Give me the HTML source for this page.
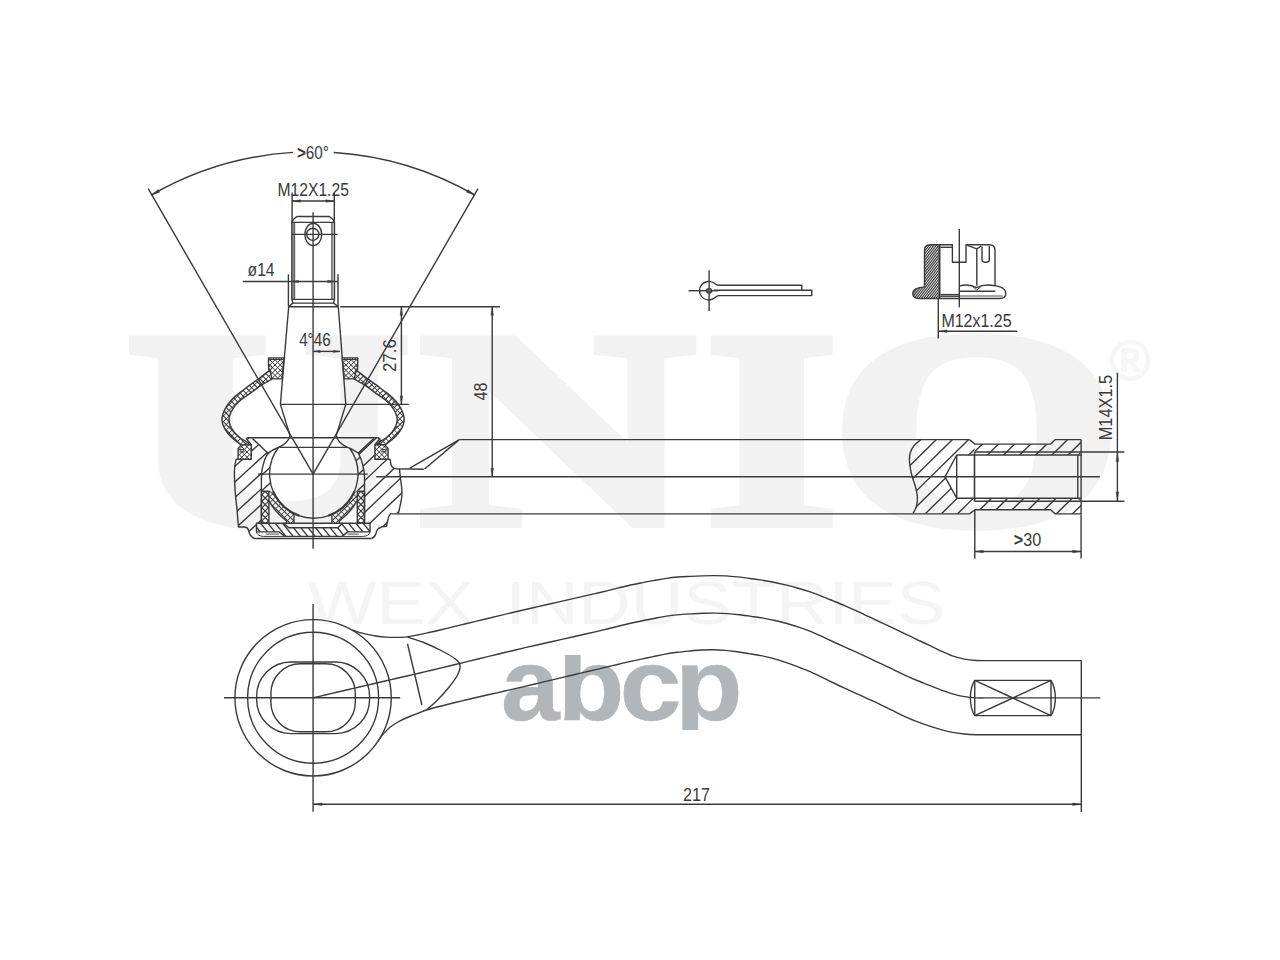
<!DOCTYPE html>
<html lang="en">
<head>
<meta charset="utf-8">
<title>Tie rod end drawing</title>
<style>
html,body{margin:0;padding:0;background:#fff;}
body{width:1280px;height:960px;overflow:hidden;font-family:"Liberation Sans",sans-serif;}
svg{display:block;}
.wm text{font-family:"Liberation Serif",serif;font-weight:bold;}
.wx text{font-family:"Liberation Sans",sans-serif;}
.dr{fill:none;stroke:#3a3a3a;stroke-width:1.4;stroke-linecap:butt;stroke-linejoin:round;}
.dr text{font-family:"Liberation Sans",sans-serif;fill:#3a3a3a;stroke:none;}
</style>
</head>
<body>
<svg width="1280" height="960" viewBox="0 0 1280 960">
<defs>
<clipPath id="c1"><path clip-rule="evenodd" d="M268.5 357.9 L283.9 357.9 L282 378.9 L271.9 378.9 L270 370.2 L268.7 369.6 L268.5 365.6 Z"/></clipPath>
<clipPath id="c2"><path clip-rule="evenodd" d="M268.5 357.9 L283.9 357.9 L282 378.9 L271.9 378.9 L270 370.2 L268.7 369.6 L268.5 365.6 Z"/></clipPath>
<clipPath id="c3"><path clip-rule="evenodd" d="M270 370.2 C268.5 371.33 264.37 374.5 261 377 C257.63 379.5 253.55 382.43 249.8 385.2 C246.05 387.97 241.63 391.07 238.5 393.6 C235.37 396.13 233.12 398.07 231 400.4 C228.88 402.73 227.13 405.33 225.8 407.6 C224.47 409.87 223.63 412.03 223 414 C222.37 415.97 221.93 417.4 222 419.4 C222.07 421.4 222.4 423.65 223.4 426 C224.4 428.35 226.1 431.13 228 433.5 C229.9 435.87 232.67 438.35 234.8 440.2 C236.93 442.05 239.8 443.87 240.8 444.6 L249.4 443.6 C248.83 443.27 247.57 442.57 246 441.6 C244.43 440.63 242 439.4 240 437.8 C238 436.2 235.63 434.03 234 432 C232.37 429.97 231.03 427.7 230.2 425.6 C229.37 423.5 228.93 421.5 229 419.4 C229.07 417.3 229.7 415.13 230.6 413 C231.5 410.87 232.7 408.77 234.4 406.6 C236.1 404.43 238.23 402.17 240.8 400 C243.37 397.83 246.43 396.03 249.8 393.6 C253.17 391.17 257.32 387.85 261 385.4 C264.68 382.95 270.08 379.98 271.9 378.9 Z"/></clipPath>
<clipPath id="c4"><path clip-rule="evenodd" d="M270 370.2 C268.5 371.33 264.37 374.5 261 377 C257.63 379.5 253.55 382.43 249.8 385.2 C246.05 387.97 241.63 391.07 238.5 393.6 C235.37 396.13 233.12 398.07 231 400.4 C228.88 402.73 227.13 405.33 225.8 407.6 C224.47 409.87 223.63 412.03 223 414 C222.37 415.97 221.93 417.4 222 419.4 C222.07 421.4 222.4 423.65 223.4 426 C224.4 428.35 226.1 431.13 228 433.5 C229.9 435.87 232.67 438.35 234.8 440.2 C236.93 442.05 239.8 443.87 240.8 444.6 L249.4 443.6 C248.83 443.27 247.57 442.57 246 441.6 C244.43 440.63 242 439.4 240 437.8 C238 436.2 235.63 434.03 234 432 C232.37 429.97 231.03 427.7 230.2 425.6 C229.37 423.5 228.93 421.5 229 419.4 C229.07 417.3 229.7 415.13 230.6 413 C231.5 410.87 232.7 408.77 234.4 406.6 C236.1 404.43 238.23 402.17 240.8 400 C243.37 397.83 246.43 396.03 249.8 393.6 C253.17 391.17 257.32 387.85 261 385.4 C264.68 382.95 270.08 379.98 271.9 378.9 Z"/></clipPath>
<clipPath id="c5"><path clip-rule="evenodd" d="M238.1 448.4 L241.4 444.8 L251.3 444.8 L251.3 459.3 L238.1 459.3 Z"/></clipPath>
<clipPath id="c6"><path clip-rule="evenodd" d="M238.1 448.4 L241.4 444.8 L251.3 444.8 L251.3 459.3 L238.1 459.3 Z"/></clipPath>
<clipPath id="c7"><path clip-rule="evenodd" d="M357.7 357.9 L342.3 357.9 L344.2 378.9 L354.3 378.9 L356.2 370.2 L357.5 369.6 L357.7 365.6 Z"/></clipPath>
<clipPath id="c8"><path clip-rule="evenodd" d="M357.7 357.9 L342.3 357.9 L344.2 378.9 L354.3 378.9 L356.2 370.2 L357.5 369.6 L357.7 365.6 Z"/></clipPath>
<clipPath id="c9"><path clip-rule="evenodd" d="M356.2 370.2 C357.7 371.33 361.83 374.5 365.2 377 C368.57 379.5 372.65 382.43 376.4 385.2 C380.15 387.97 384.57 391.07 387.7 393.6 C390.83 396.13 393.08 398.07 395.2 400.4 C397.32 402.73 399.07 405.33 400.4 407.6 C401.73 409.87 402.57 412.03 403.2 414 C403.83 415.97 404.27 417.4 404.2 419.4 C404.13 421.4 403.8 423.65 402.8 426 C401.8 428.35 400.1 431.13 398.2 433.5 C396.3 435.87 393.53 438.35 391.4 440.2 C389.27 442.05 386.4 443.87 385.4 444.6 L376.8 443.6 C377.37 443.27 378.63 442.57 380.2 441.6 C381.77 440.63 384.2 439.4 386.2 437.8 C388.2 436.2 390.57 434.03 392.2 432 C393.83 429.97 395.17 427.7 396 425.6 C396.83 423.5 397.27 421.5 397.2 419.4 C397.13 417.3 396.5 415.13 395.6 413 C394.7 410.87 393.5 408.77 391.8 406.6 C390.1 404.43 387.97 402.17 385.4 400 C382.83 397.83 379.77 396.03 376.4 393.6 C373.03 391.17 368.88 387.85 365.2 385.4 C361.52 382.95 356.12 379.98 354.3 378.9 Z"/></clipPath>
<clipPath id="c10"><path clip-rule="evenodd" d="M356.2 370.2 C357.7 371.33 361.83 374.5 365.2 377 C368.57 379.5 372.65 382.43 376.4 385.2 C380.15 387.97 384.57 391.07 387.7 393.6 C390.83 396.13 393.08 398.07 395.2 400.4 C397.32 402.73 399.07 405.33 400.4 407.6 C401.73 409.87 402.57 412.03 403.2 414 C403.83 415.97 404.27 417.4 404.2 419.4 C404.13 421.4 403.8 423.65 402.8 426 C401.8 428.35 400.1 431.13 398.2 433.5 C396.3 435.87 393.53 438.35 391.4 440.2 C389.27 442.05 386.4 443.87 385.4 444.6 L376.8 443.6 C377.37 443.27 378.63 442.57 380.2 441.6 C381.77 440.63 384.2 439.4 386.2 437.8 C388.2 436.2 390.57 434.03 392.2 432 C393.83 429.97 395.17 427.7 396 425.6 C396.83 423.5 397.27 421.5 397.2 419.4 C397.13 417.3 396.5 415.13 395.6 413 C394.7 410.87 393.5 408.77 391.8 406.6 C390.1 404.43 387.97 402.17 385.4 400 C382.83 397.83 379.77 396.03 376.4 393.6 C373.03 391.17 368.88 387.85 365.2 385.4 C361.52 382.95 356.12 379.98 354.3 378.9 Z"/></clipPath>
<clipPath id="c11"><path clip-rule="evenodd" d="M388.1 448.4 L384.8 444.8 L374.9 444.8 L374.9 459.3 L388.1 459.3 Z"/></clipPath>
<clipPath id="c12"><path clip-rule="evenodd" d="M388.1 448.4 L384.8 444.8 L374.9 444.8 L374.9 459.3 L388.1 459.3 Z"/></clipPath>
<clipPath id="c13"><path clip-rule="evenodd" d="M267.8 453 L264.8 459.6 L262.8 466.4 L261.7 472 L261.4 478 L261.4 491.4 L270.2 491.4 L271.33 486.25 L270.17 481.1 L269.64 475.95 L269.72 470.8 L270.4 465.65 L271.71 460.5 L273.73 455.35 L276.55 450.2 Z"/></clipPath>
<clipPath id="c14"><path clip-rule="evenodd" d="M358.4 453 L361.2 459.6 L363 466.4 L364.2 472 L364.5 478 L364.5 491.4 L357.6 491.4 L356.27 486.25 L357.43 481.1 L357.96 475.95 L357.88 470.8 L357.2 465.65 L355.89 460.5 L353.87 455.35 L351.05 450.2 Z"/></clipPath>
<clipPath id="c15"><path clip-rule="evenodd" d="M261.4 491.4 L268.9 491.4 L268.9 523.2 L261.4 523.2 Z"/></clipPath>
<clipPath id="c16"><path clip-rule="evenodd" d="M261.4 491.4 L268.9 491.4 L268.9 523.2 L261.4 523.2 Z"/></clipPath>
<clipPath id="c17"><path clip-rule="evenodd" d="M357.3 491.4 L364.5 491.4 L364.5 523.2 L357.3 523.2 Z"/></clipPath>
<clipPath id="c18"><path clip-rule="evenodd" d="M357.3 491.4 L364.5 491.4 L364.5 523.2 L357.3 523.2 Z"/></clipPath>
<clipPath id="c19"><path clip-rule="evenodd" d="M268.9 491.4 L273.17 491.4 L274.3 493.84 L275.63 496.28 L277.16 498.72 L278.93 501.16 L280.98 503.6 L283.35 506.04 L286.15 508.48 L289.5 510.92 L293.69 513.36 L299.43 515.8 L294 515.8 L294 523.2 L286.5 523.2 L286.5 521 L279 514.2 L273 507.4 L268.9 500.7 Z"/></clipPath>
<clipPath id="c20"><path clip-rule="evenodd" d="M268.9 491.4 L273.17 491.4 L274.3 493.84 L275.63 496.28 L277.16 498.72 L278.93 501.16 L280.98 503.6 L283.35 506.04 L286.15 508.48 L289.5 510.92 L293.69 513.36 L299.43 515.8 L294 515.8 L294 523.2 L286.5 523.2 L286.5 521 L279 514.2 L273 507.4 L268.9 500.7 Z"/></clipPath>
<clipPath id="c21"><path clip-rule="evenodd" d="M357 491.4 L354.43 491.4 L353.3 493.84 L351.97 496.28 L350.44 498.72 L348.67 501.16 L346.62 503.6 L344.25 506.04 L341.45 508.48 L338.1 510.92 L333.91 513.36 L328.17 515.8 L331.9 515.8 L331.9 523.2 L339.4 523.2 L339.4 521 L346.9 514.2 L352.9 507.4 L357 500.7 Z"/></clipPath>
<clipPath id="c22"><path clip-rule="evenodd" d="M357 491.4 L354.43 491.4 L353.3 493.84 L351.97 496.28 L350.44 498.72 L348.67 501.16 L346.62 503.6 L344.25 506.04 L341.45 508.48 L338.1 510.92 L333.91 513.36 L328.17 515.8 L331.9 515.8 L331.9 523.2 L339.4 523.2 L339.4 521 L346.9 514.2 L352.9 507.4 L357 500.7 Z"/></clipPath>
<clipPath id="c23"><path clip-rule="evenodd" d="M256.5 523.2 L370 523.2 L370 531.9 L347.5 531.9 L342.2 536.4 L285 536.4 L279 531.9 L256.5 531.9 Z M342.8 523.2 L337.8 527.8 L288.8 527.8 L283.6 523.2 Z"/></clipPath>
<clipPath id="c24"><path clip-rule="evenodd" d="M248.4 437.7 L252.4 438.4 L267.8 453 L264.8 459.6 L262.8 466.4 L261.7 472 L261.4 478 L261.4 523.2 L256.5 523.2 L256.5 531.9 L249 531.9 L248.4 530 C247.8 528.2 246.6 527.2 244.6 527 L238.5 527 C238 520.6 237.4 514 236.8 507.4 C235.4 496 234.4 484 234.4 472.4 C234.5 467 235.2 462.6 236 459.4 L251.3 459.3 L251.3 444.8 L246.6 439 Z"/></clipPath>
<clipPath id="c25"><path clip-rule="evenodd" d="M377.4 437.7 L373.8 438.4 L358.4 453 L361.2 459.6 L363 466.4 L364.2 472 L364.5 478 L364.5 523.2 L370 523.2 L370 531.9 L376.4 531.9 C376.8 529.4 377.4 529 378.4 528.5 L382 526.8 L386.5 526.3 L387.6 521 C388 518.4 388.4 516.6 389.4 515.4 L391.4 513.1 L398.3 513.6 L399.6 508 L400.7 503 L401.6 498 L401.9 492 L401.5 486 L400.7 480 L400 474 L399.5 469 L396.4 468.8 C392.8 468.4 391.2 466.8 390.7 463.6 L390.2 459.5 L375.2 459.3 L375.2 444.8 L379.8 443.4 L380.1 440.4 Z"/></clipPath>
<clipPath id="c26"><path clip-rule="evenodd" d="M921.6 439.1 L914 445.6 L910.2 453 L909.4 460.6 L910.4 468.6 L912.2 476.6 L914.6 484 L916.4 490.6 L917.4 497 L917 503.6 L915.4 509 L913.1 513.3 L969.4 513.9 L975 509.7 L974.5 501.3 L974.5 498.2 L956.7 498.2 L945 476.8 L956.7 455 L974.5 455 L974.5 452 L975 444.1 L969.4 439.6 Z"/></clipPath>
<clipPath id="c27"><path clip-rule="evenodd" d="M975 444.1 L1050.6 444.1 L1055.3 439.6 L1081.1 439.6 L1081.1 455 L975 455 Z"/></clipPath>
<clipPath id="c28"><path clip-rule="evenodd" d="M975 509.7 L1050.6 509.7 L1055.3 513.9 L1081.1 513.9 L1081.1 498.2 L975 498.2 Z"/></clipPath>
<clipPath id="c29"><path clip-rule="evenodd" d="M924.5 286.9 L924.5 250.2 C924.5 246.6 926.4 244.8 930 244.7 L938.4 244.7 L938.4 298.5 L919 298.5 C915.2 298.3 912.8 296.4 912.8 293.4 C912.8 290.4 915.6 288.4 919.6 287.6 Z"/></clipPath>
</defs>
<g class="wm" fill="#f2f2f2" stroke="#f2f2f2" stroke-width="10" stroke-linejoin="miter"><text y="523" font-size="278.63"><tspan x="126.22" textLength="284.05" lengthAdjust="spacingAndGlyphs">U</tspan><tspan x="419.6" textLength="275.02" lengthAdjust="spacingAndGlyphs">N</tspan><tspan x="705.53" textLength="132.43" lengthAdjust="spacingAndGlyphs">I</tspan><tspan x="830.33" textLength="292.34" lengthAdjust="spacingAndGlyphs">O</tspan></text></g>
<g class="wx" fill="#f6f6f6" stroke="#f6f6f6" stroke-width="1.8"><text x="1130" y="380" font-size="55" text-anchor="middle">®</text></g>
<g class="wx" fill="#f4f4f4"><text y="624.4" font-size="61.5"><tspan x="307.7" textLength="166.16" lengthAdjust="spacingAndGlyphs">WEX</tspan> <tspan x="505.8" textLength="439.48" lengthAdjust="spacingAndGlyphs">INDUSTRIES</tspan></text></g>
<clipPath id="lg"><rect x="495" y="655" width="250" height="75"/></clipPath>
<g class="wx" fill="#b3b6b8" stroke="#b3b6b8" stroke-width="0.5" stroke-linejoin="round" clip-path="url(#lg)"><text y="719.5" font-size="101.6" font-weight="bold"><tspan x="500.95" textLength="58.75" lengthAdjust="spacingAndGlyphs">a</tspan><tspan x="557.63" textLength="67.04" lengthAdjust="spacingAndGlyphs">b</tspan><tspan x="619.52" textLength="62.14" lengthAdjust="spacingAndGlyphs">c</tspan><tspan x="675.06" textLength="67.66" lengthAdjust="spacingAndGlyphs">p</tspan></text></g>
<g class="dr">
<line x1="313.1" y1="212.2" x2="313.1" y2="548.8"/>
<line x1="313.1" y1="474.2" x2="148.2" y2="188.7"/>
<line x1="313.1" y1="474.2" x2="478" y2="188.7"/>
<path d="M151.1 195.21 A324.0 324.0 0 0 1 293.04 152.42"/>
<path d="M333.73 152.46 A324.0 324.0 0 0 1 475.1 195.21"/>
<path d="M151.1 195.21 L158.22 189.51 L159.69 192.13 Z" fill="#3a3a3a" stroke="#3a3a3a" stroke-width="0.4"/>
<path d="M475.1 195.21 L466.51 192.13 L467.98 189.51 Z" fill="#3a3a3a" stroke="#3a3a3a" stroke-width="0.4"/>
<text x="312.9" y="158.9" font-size="19.2" text-anchor="middle" textLength="32" lengthAdjust="spacingAndGlyphs"><tspan font-weight="bold">&gt;</tspan>60°</text>
<path d="M291.9 299.4 L291.9 222.4 L293.1 219.8 L296.8 216.5 L329.2 216.5 L333.3 219.8 L334.5 222.4 L334.5 299.4"/>
<path d="M291.9 222.4 L294.7 222.4 L294.7 299.4 L291.9 299.4 Z" stroke-width="0.8" fill="#8a8a8a"/>
<line x1="291.9" y1="222.4" x2="334.5" y2="222.4"/>
<path d="M331.8 222.4 L334.5 222.4 L334.5 299.4 L331.8 299.4 Z" stroke-width="0.9" fill="#b0b0b0"/>
<line x1="291.9" y1="299.4" x2="334.5" y2="299.4"/>
<path d="M291.9 299.4 L292.8 303.1 L288.7 306.7"/>
<path d="M334.5 299.4 L333.6 303.1 L338.3 306.7"/>
<line x1="292.8" y1="303.1" x2="333.6" y2="303.1"/>
<line x1="288.7" y1="306.7" x2="338.3" y2="306.7"/>
<ellipse cx="313.3" cy="234.4" rx="8.4" ry="11.2"/>
<circle cx="312.8" cy="234.3" r="6.1"/>
<line x1="291.9" y1="234.4" x2="337.7" y2="234.4"/>
<line x1="292.1" y1="192.4" x2="292.1" y2="222.4"/>
<line x1="334.3" y1="192.4" x2="334.3" y2="222.4"/>
<line x1="291.9" y1="201" x2="334.5" y2="201"/>
<path d="M292.5 201 L300.5 199.7 L300.5 202.3 Z" fill="#3a3a3a" stroke="#3a3a3a" stroke-width="0.4"/>
<path d="M333.9 201 L325.9 202.3 L325.9 199.7 Z" fill="#3a3a3a" stroke="#3a3a3a" stroke-width="0.4"/>
<text x="277.5" y="196.1" font-size="18.8" textLength="71.4" lengthAdjust="spacingAndGlyphs">M12X1.25</text>
<line x1="288.4" y1="274.3" x2="288.4" y2="306.7"/>
<line x1="338" y1="274.3" x2="338" y2="306.7"/>
<line x1="242.8" y1="281.5" x2="338" y2="281.5"/>
<path d="M292.2 281.5 L298.7 280.2 L298.7 282.8 Z" fill="#3a3a3a" stroke="#3a3a3a" stroke-width="0.4"/>
<path d="M334.2 281.5 L327.7 282.8 L327.7 280.2 Z" fill="#3a3a3a" stroke="#3a3a3a" stroke-width="0.4"/>
<text x="247.6" y="276.2" font-size="18.8" textLength="27" lengthAdjust="spacingAndGlyphs">ø14</text>
<line x1="288.7" y1="306.7" x2="280.4" y2="404.4"/>
<line x1="338.3" y1="306.7" x2="345.8" y2="404.4"/>
<line x1="280.4" y1="404.4" x2="408.8" y2="404.4"/>
<line x1="313.1" y1="351.4" x2="340" y2="351.4"/>
<path d="M313.7 351.4 L320.2 350.2 L320.2 352.6 Z" fill="#3a3a3a" stroke="#3a3a3a" stroke-width="0.4"/>
<path d="M339.8 351.4 L333.3 352.6 L333.3 350.2 Z" fill="#3a3a3a" stroke="#3a3a3a" stroke-width="0.4"/>
<text x="314.9" y="346.3" font-size="18.8" text-anchor="middle" textLength="31.5" lengthAdjust="spacingAndGlyphs">4°46</text>
<line x1="340.3" y1="306.8" x2="499.8" y2="306.8"/>
<line x1="401.4" y1="306.8" x2="401.4" y2="404.4"/>
<path d="M401.4 306.8 L402.7 315.3 L400.1 315.3 Z" fill="#3a3a3a" stroke="#3a3a3a" stroke-width="0.4"/>
<path d="M401.4 404.4 L400.1 395.9 L402.7 395.9 Z" fill="#3a3a3a" stroke="#3a3a3a" stroke-width="0.4"/>
<text x="395.8" y="355.6" font-size="18.8" text-anchor="middle" textLength="33" lengthAdjust="spacingAndGlyphs" transform="rotate(-90 395.8 355.6)">27.6</text>
<line x1="492.2" y1="306.8" x2="492.2" y2="476.8"/>
<path d="M492.2 306.8 L493.5 315.3 L490.9 315.3 Z" fill="#3a3a3a" stroke="#3a3a3a" stroke-width="0.4"/>
<path d="M492.2 476.8 L490.9 468.3 L493.5 468.3 Z" fill="#3a3a3a" stroke="#3a3a3a" stroke-width="0.4"/>
<text x="486.8" y="391.4" font-size="18.8" text-anchor="middle" textLength="18" lengthAdjust="spacingAndGlyphs" transform="rotate(-90 486.8 391.4)">48</text>
<path d="M268.5 357.9 L283.9 357.9 L282 378.9 L271.9 378.9 L270 370.2 L268.7 369.6 L268.5 365.6 Z"/>
<path clip-path="url(#c1)" d="M279.23 343.07L301.63 365.47M276.61 345.68L299.02 368.09M274 348.3L296.4 370.7M271.38 350.92L293.78 373.32M268.77 353.53L291.17 375.93M266.15 356.15L288.55 378.55M263.53 358.77L285.93 381.17M260.92 361.38L283.32 383.78M258.3 364L280.7 386.4M255.68 366.61L278.09 389.02M253.07 369.23L275.47 391.63" stroke-width="1"/>
<path clip-path="url(#c2)" d="M252.18 366.89L274.59 344.48M254.8 369.5L277.2 347.1M257.42 372.12L279.82 349.72M260.03 374.73L282.43 352.33M262.65 377.35L285.05 354.95M265.27 379.97L287.67 357.57M267.88 382.58L290.28 360.18M270.5 385.2L292.9 362.8M273.11 387.82L295.52 365.41M275.73 390.43L298.13 368.03M278.35 393.05L300.75 370.65" stroke-width="1"/>
<line x1="268.5" y1="359.5" x2="283.6" y2="359.5" stroke-width="1"/>
<circle cx="270.3" cy="367.7" r="1.7" stroke-width="1"/>
<path d="M270 370.2 C268.5 371.33 264.37 374.5 261 377 C257.63 379.5 253.55 382.43 249.8 385.2 C246.05 387.97 241.63 391.07 238.5 393.6 C235.37 396.13 233.12 398.07 231 400.4 C228.88 402.73 227.13 405.33 225.8 407.6 C224.47 409.87 223.63 412.03 223 414 C222.37 415.97 221.93 417.4 222 419.4 C222.07 421.4 222.4 423.65 223.4 426 C224.4 428.35 226.1 431.13 228 433.5 C229.9 435.87 232.67 438.35 234.8 440.2 C236.93 442.05 239.8 443.87 240.8 444.6" stroke-width="1.45"/>
<path d="M271.9 378.9 C270.08 379.98 264.68 382.95 261 385.4 C257.32 387.85 253.17 391.17 249.8 393.6 C246.43 396.03 243.37 397.83 240.8 400 C238.23 402.17 236.1 404.43 234.4 406.6 C232.7 408.77 231.5 410.87 230.6 413 C229.7 415.13 229.07 417.3 229 419.4 C228.93 421.5 229.37 423.5 230.2 425.6 C231.03 427.7 232.37 429.97 234 432 C235.63 434.03 238 436.2 240 437.8 C242 439.4 244.43 440.63 246 441.6 C247.57 442.57 248.83 443.27 249.4 443.6" stroke-width="1.45"/>
<path clip-path="url(#c3)" d="M250.46 335.52L318.98 404.04M247.63 338.34L316.16 406.87M244.8 341.17L313.33 409.7M241.97 344L310.5 412.53M239.14 346.83L307.67 415.36M236.31 349.66L304.84 418.19M233.49 352.49L302.01 421.01M230.66 355.31L299.19 423.84M227.83 358.14L296.36 426.67M225 360.97L293.53 429.5M222.17 363.8L290.7 432.33M219.34 366.63L287.87 435.16M216.52 369.46L285.04 437.98M213.69 372.28L282.22 440.81M210.86 375.11L279.39 443.64M208.03 377.94L276.56 446.47M205.2 380.77L273.73 449.3M202.37 383.6L270.9 452.13M199.54 386.43L268.07 454.96M196.72 389.26L265.24 457.78M193.89 392.08L262.42 460.61M191.06 394.91L259.59 463.44M188.23 397.74L256.76 466.27M185.4 400.57L253.93 469.1M182.57 403.4L251.1 471.93M179.75 406.23L248.27 474.75M176.92 409.05L245.45 477.58" stroke-width="1.1"/>
<path clip-path="url(#c4)" d="M176.87 405.9L245.4 337.37M179.7 408.73L248.23 340.2M182.53 411.56L251.06 343.03M185.36 414.39L253.89 345.86M188.19 417.22L256.72 348.69M191.02 420.04L259.54 351.52M193.84 422.87L262.37 354.34M196.67 425.7L265.2 357.17M199.5 428.53L268.03 360M202.33 431.36L270.86 362.83M205.16 434.19L273.69 365.66M207.99 437.01L276.51 368.49M210.81 439.84L279.34 371.31M213.64 442.67L282.17 374.14M216.47 445.5L285 376.97M219.3 448.33L287.83 379.8M222.13 451.16L290.66 382.63M224.96 453.98L293.48 385.46M227.78 456.81L296.31 388.28M230.61 459.64L299.14 391.11M233.44 462.47L301.97 393.94M236.27 465.3L304.8 396.77M239.1 468.13L307.63 399.6M241.93 470.96L310.46 402.43M244.76 473.78L313.28 405.26M247.58 476.61L316.11 408.08M250.41 479.44L318.94 410.91" stroke-width="1"/>
<path d="M238.1 448.4 L241.4 444.8 L251.3 444.8 L251.3 459.3 L238.1 459.3 Z"/>
<path clip-path="url(#c5)" d="M247.57 431.64L265.06 449.13M244.95 434.25L262.45 451.75M242.33 436.87L259.83 454.37M239.72 439.49L257.21 456.98M237.1 442.1L254.6 459.6M234.49 444.72L251.98 462.21M231.87 447.33L249.37 464.83M229.25 449.95L246.75 467.45M226.64 452.57L244.13 470.06" stroke-width="1"/>
<path clip-path="url(#c6)" d="M226.64 451.43L244.13 433.94M229.25 454.05L246.75 436.55M231.87 456.67L249.37 439.17M234.49 459.28L251.98 441.79M237.1 461.9L254.6 444.4M239.72 464.51L257.21 447.02M242.33 467.13L259.83 449.63M244.95 469.75L262.45 452.25M247.57 472.36L265.06 454.87" stroke-width="1"/>
<line x1="239.3" y1="449.6" x2="245.3" y2="449.6" stroke-width="1"/>
<line x1="239.3" y1="451.9" x2="245.3" y2="451.9" stroke-width="1"/>
<path d="M246.6 439 L251.3 444.8"/>
<path d="M280.4 404.4 L289.8 435"/>
<path d="M289.8 435 C289.73 435.43 289.7 436.73 289.4 437.6 C289.1 438.47 288.57 439.37 288 440.2 C287.43 441.03 286.75 441.87 286 442.6 C285.25 443.33 284.5 443.93 283.5 444.6 C282.5 445.27 281.25 445.95 280 446.6 C278.75 447.25 277.33 447.83 276 448.5 C274.67 449.17 273.37 449.85 272 450.6 C270.63 451.35 268.5 452.6 267.8 453"/>
<line x1="252.4" y1="438.4" x2="267.8" y2="453"/>
<path d="M357.7 357.9 L342.3 357.9 L344.2 378.9 L354.3 378.9 L356.2 370.2 L357.5 369.6 L357.7 365.6 Z"/>
<path clip-path="url(#c7)" d="M351.61 344.48L374.02 366.89M349 347.1L371.4 369.5M346.38 349.72L368.78 372.12M343.77 352.33L366.17 374.73M341.15 354.95L363.55 377.35M338.53 357.57L360.93 379.97M335.92 360.18L358.32 382.58M333.3 362.8L355.7 385.2M330.68 365.41L353.09 387.82M328.07 368.03L350.47 390.43M325.45 370.65L347.85 393.05" stroke-width="1"/>
<path clip-path="url(#c8)" d="M324.57 365.47L346.97 343.07M327.18 368.09L349.59 345.68M329.8 370.7L352.2 348.3M332.42 373.32L354.82 350.92M335.03 375.93L357.43 353.53M337.65 378.55L360.05 356.15M340.27 381.17L362.67 358.77M342.88 383.78L365.28 361.38M345.5 386.4L367.9 364M348.11 389.02L370.52 366.61M350.73 391.63L373.13 369.23" stroke-width="1"/>
<line x1="357.7" y1="359.5" x2="342.6" y2="359.5" stroke-width="1"/>
<circle cx="355.9" cy="367.7" r="1.7" stroke-width="1"/>
<path d="M356.2 370.2 C357.7 371.33 361.83 374.5 365.2 377 C368.57 379.5 372.65 382.43 376.4 385.2 C380.15 387.97 384.57 391.07 387.7 393.6 C390.83 396.13 393.08 398.07 395.2 400.4 C397.32 402.73 399.07 405.33 400.4 407.6 C401.73 409.87 402.57 412.03 403.2 414 C403.83 415.97 404.27 417.4 404.2 419.4 C404.13 421.4 403.8 423.65 402.8 426 C401.8 428.35 400.1 431.13 398.2 433.5 C396.3 435.87 393.53 438.35 391.4 440.2 C389.27 442.05 386.4 443.87 385.4 444.6" stroke-width="1.45"/>
<path d="M354.3 378.9 C356.12 379.98 361.52 382.95 365.2 385.4 C368.88 387.85 373.03 391.17 376.4 393.6 C379.77 396.03 382.83 397.83 385.4 400 C387.97 402.17 390.1 404.43 391.8 406.6 C393.5 408.77 394.7 410.87 395.6 413 C396.5 415.13 397.13 417.3 397.2 419.4 C397.27 421.5 396.83 423.5 396 425.6 C395.17 427.7 393.83 429.97 392.2 432 C390.57 434.03 388.2 436.2 386.2 437.8 C384.2 439.4 381.77 440.63 380.2 441.6 C378.63 442.57 377.37 443.27 376.8 443.6" stroke-width="1.45"/>
<path clip-path="url(#c9)" d="M307.22 404.04L375.74 335.52M310.04 406.87L378.57 338.34M312.87 409.7L381.4 341.17M315.7 412.53L384.23 344M318.53 415.36L387.06 346.83M321.36 418.19L389.89 349.66M324.19 421.01L392.71 352.49M327.01 423.84L395.54 355.31M329.84 426.67L398.37 358.14M332.67 429.5L401.2 360.97M335.5 432.33L404.03 363.8M338.33 435.16L406.86 366.63M341.16 437.98L409.68 369.46M343.98 440.81L412.51 372.28M346.81 443.64L415.34 375.11M349.64 446.47L418.17 377.94M352.47 449.3L421 380.77M355.3 452.13L423.83 383.6M358.13 454.96L426.66 386.43M360.96 457.78L429.48 389.26M363.78 460.61L432.31 392.08M366.61 463.44L435.14 394.91M369.44 466.27L437.97 397.74M372.27 469.1L440.8 400.57M375.1 471.93L443.63 403.4M377.93 474.75L446.45 406.23M380.75 477.58L449.28 409.05" stroke-width="1.1"/>
<path clip-path="url(#c10)" d="M380.8 337.37L449.33 405.9M377.97 340.2L446.5 408.73M375.14 343.03L443.67 411.56M372.31 345.86L440.84 414.39M369.48 348.69L438.01 417.22M366.66 351.52L435.18 420.04M363.83 354.34L432.36 422.87M361 357.17L429.53 425.7M358.17 360L426.7 428.53M355.34 362.83L423.87 431.36M352.51 365.66L421.04 434.19M349.69 368.49L418.21 437.01M346.86 371.31L415.39 439.84M344.03 374.14L412.56 442.67M341.2 376.97L409.73 445.5M338.37 379.8L406.9 448.33M335.54 382.63L404.07 451.16M332.72 385.46L401.24 453.98M329.89 388.28L398.42 456.81M327.06 391.11L395.59 459.64M324.23 393.94L392.76 462.47M321.4 396.77L389.93 465.3M318.57 399.6L387.1 468.13M315.74 402.43L384.27 470.96M312.92 405.26L381.44 473.78M310.09 408.08L378.62 476.61M307.26 410.91L375.79 479.44" stroke-width="1"/>
<path d="M388.1 448.4 L384.8 444.8 L374.9 444.8 L374.9 459.3 L388.1 459.3 Z"/>
<path clip-path="url(#c11)" d="M382.07 433.94L399.56 451.43M379.45 436.55L396.95 454.05M376.83 439.17L394.33 456.67M374.22 441.79L391.71 459.28M371.6 444.4L389.1 461.9M368.99 447.02L386.48 464.51M366.37 449.63L383.87 467.13M363.75 452.25L381.25 469.75M361.14 454.87L378.63 472.36" stroke-width="1"/>
<path clip-path="url(#c12)" d="M361.14 449.13L378.63 431.64M363.75 451.75L381.25 434.25M366.37 454.37L383.87 436.87M368.99 456.98L386.48 439.49M371.6 459.6L389.1 442.1M374.22 462.21L391.71 444.72M376.83 464.83L394.33 447.33M379.45 467.45L396.95 449.95M382.07 470.06L399.56 452.57" stroke-width="1"/>
<line x1="386.9" y1="449.6" x2="380.9" y2="449.6" stroke-width="1"/>
<line x1="386.9" y1="451.9" x2="380.9" y2="451.9" stroke-width="1"/>
<path d="M379.6 439 L374.9 444.8"/>
<path d="M345.8 404.4 L336.4 435"/>
<path d="M336.4 435 C336.47 435.43 336.5 436.73 336.8 437.6 C337.1 438.47 337.63 439.37 338.2 440.2 C338.77 441.03 339.45 441.87 340.2 442.6 C340.95 443.33 341.7 443.93 342.7 444.6 C343.7 445.27 344.95 445.95 346.2 446.6 C347.45 447.25 348.87 447.83 350.2 448.5 C351.53 449.17 352.83 449.85 354.2 450.6 C355.57 451.35 357.7 452.6 358.4 453"/>
<line x1="373.8" y1="438.4" x2="358.4" y2="453"/>
<path d="M373.8 438.4 L358.4 453 L359.4 453.6 Z" stroke-width="0.6" fill="#3a3a3a"/>
<line x1="279.4" y1="447.4" x2="347.4" y2="447.4"/>
<path d="M278.8 447.01 A44.2 44.2 0 1 0 349.7 448.22"/>
<line x1="258" y1="474.1" x2="367.8" y2="474.1"/>
<path d="M267.8 453 C267.3 454.1 265.63 457.37 264.8 459.6 C263.97 461.83 263.32 464.33 262.8 466.4 C262.28 468.47 261.93 470.07 261.7 472 C261.47 473.93 261.45 477 261.4 478 L261.4 523.2"/>
<path d="M358.4 453 C358.87 454.1 360.43 457.37 361.2 459.6 C361.97 461.83 362.5 464.33 363 466.4 C363.5 468.47 363.95 470.07 364.2 472 C364.45 473.93 364.45 477 364.5 478 L364.5 523.2"/>
<path clip-path="url(#c13)" d="M226.48 460.62L265.04 425.29M234.25 469.1L272.81 433.76M242.02 477.58L280.58 442.24M249.79 486.06L288.35 450.72M257.55 494.53L296.12 459.2M265.32 503.01L303.88 467.68M273.09 511.49L311.65 476.16"/>
<path clip-path="url(#c14)" d="M316.71 465.68L354.62 430.94M324.48 474.16L362.39 439.41M332.24 482.63L370.16 447.89M340.01 491.11L377.93 456.37M347.78 499.59L385.7 464.85M355.55 508.07L393.47 473.33M363.32 516.55L401.24 481.81"/>
<path d="M261.4 491.4 L268.9 491.4 L268.9 523.2 L261.4 523.2 Z"/>
<path clip-path="url(#c15)" d="M266.59 479.93L292.52 505.86M263.34 483.18L289.27 509.11M260.09 486.43L286.02 512.36M256.83 489.68L282.77 515.62M253.58 492.94L279.51 518.87M250.33 496.19L276.26 522.12M247.08 499.44L273.01 525.37M243.82 502.7L269.75 528.63M240.57 505.95L266.5 531.88" stroke-width="1.1"/>
<path clip-path="url(#c16)" d="M237.78 505.86L263.71 479.93M241.03 509.11L266.96 483.18M244.28 512.36L270.21 486.43M247.53 515.62L273.47 489.68M250.79 518.87L276.72 492.94M254.04 522.12L279.97 496.19M257.29 525.37L283.22 499.44M260.55 528.63L286.48 502.7M263.8 531.88L289.73 505.95" stroke-width="1.1"/>
<path d="M357.3 491.4 L364.5 491.4 L364.5 523.2 L357.3 523.2 Z"/>
<path clip-path="url(#c17)" d="M362.37 479.95L388.25 505.83M359.11 483.2L385 509.09M355.86 486.46L381.74 512.34M352.61 489.71L378.49 515.59M349.36 492.96L375.24 518.84M346.1 496.21L371.99 522.1M342.85 499.47L368.73 525.35M339.6 502.72L365.48 528.6M336.34 505.97L362.23 531.86" stroke-width="1.1"/>
<path clip-path="url(#c18)" d="M333.55 505.83L359.43 479.95M336.8 509.09L362.69 483.2M340.06 512.34L365.94 486.46M343.31 515.59L369.19 489.71M346.56 518.84L372.44 492.96M349.81 522.1L375.7 496.21M353.07 525.35L378.95 499.47M356.32 528.6L382.2 502.72M359.57 531.86L385.46 505.97" stroke-width="1.1"/>
<line x1="261.4" y1="491.4" x2="270.2" y2="491.4"/>
<line x1="357.6" y1="491.4" x2="364.5" y2="491.4"/>
<path d="M268.9 500.7 C269.58 501.82 271.32 505.15 273 507.4 C274.68 509.65 276.75 511.93 279 514.2 C281.25 516.47 285.25 519.87 286.5 521 L286.5 523.2"/>
<path d="M294 515.8 L294 523.2"/>
<path d="M273.17 491.4 L274.3 493.84 L275.63 496.28 L277.16 498.72 L278.93 501.16 L280.98 503.6 L283.35 506.04 L286.15 508.48 L289.5 510.92 L293.69 513.36 L299.43 515.8" stroke-width="2.2"/>
<path clip-path="url(#c19)" d="M285.97 471.49L319.97 505.5M283 474.46L317 508.47M280.03 477.43L314.03 511.43M277.06 480.4L311.06 514.4M274.09 483.37L308.09 517.37M271.12 486.34L305.12 520.34M268.15 489.31L302.15 523.31M265.18 492.28L299.18 526.28M262.21 495.25L296.21 529.25M259.24 498.22L293.24 532.22M256.27 501.19L290.27 535.19M253.3 504.16L287.3 538.16M250.33 507.13L284.33 541.13" stroke-width="1.1"/>
<path clip-path="url(#c20)" d="M248.73 505.87L282.74 471.87M251.7 508.84L285.71 474.84M254.67 511.81L288.68 477.81M257.64 514.78L291.65 480.78M260.61 517.75L294.62 483.75M263.58 520.72L297.58 486.72M266.55 523.69L300.55 489.69M269.52 526.66L303.52 492.66M272.49 529.63L306.49 495.63M275.46 532.6L309.46 498.6M278.43 535.57L312.43 501.57M281.4 538.54L315.4 504.54M284.37 541.51L318.37 507.51" stroke-width="1"/>
<path d="M357 500.7 C356.32 501.82 354.58 505.15 352.9 507.4 C351.22 509.65 349.15 511.93 346.9 514.2 C344.65 516.47 340.65 519.87 339.4 521 L339.4 523.2"/>
<path d="M331.9 515.8 L331.9 523.2"/>
<path d="M354.43 491.4 L353.3 493.84 L351.97 496.28 L350.44 498.72 L348.67 501.16 L346.62 503.6 L344.25 506.04 L341.45 508.48 L338.1 510.92 L333.91 513.36 L328.17 515.8" stroke-width="2.2"/>
<path clip-path="url(#c21)" d="M306.76 504.66L339.94 471.48M309.73 507.63L342.91 474.45M312.7 510.6L345.88 477.42M315.67 513.57L348.85 480.39M318.64 516.54L351.82 483.36M321.61 519.51L354.79 486.33M324.58 522.48L357.76 489.3M327.55 525.45L360.73 492.27M330.52 528.42L363.7 495.24M333.49 531.39L366.67 498.21M336.46 534.36L369.64 501.18M339.43 537.33L372.61 504.15M342.4 540.3L375.58 507.12" stroke-width="1.1"/>
<path clip-path="url(#c22)" d="M344 472.7L377.18 505.88M341.03 475.67L374.21 508.85M338.06 478.64L371.24 511.82M335.09 481.61L368.27 514.79M332.12 484.58L365.3 517.76M329.15 487.55L362.33 520.73M326.18 490.52L359.36 523.7M323.21 493.49L356.39 526.67M320.24 496.46L353.42 529.64M317.27 499.43L350.45 532.61M314.3 502.4L347.48 535.58M311.33 505.37L344.51 538.55M308.36 508.34L341.54 541.52" stroke-width="1"/>
<path d="M256.5 523.2 L370 523.2 L370 531.9 L347.5 531.9 L342.2 536.4 L285 536.4 L279 531.9 L256.5 531.9 Z"/>
<path d="M283.6 523.2 L288.8 527.8 L337.8 527.8 L342.8 523.2"/>
<path clip-path="url(#c23)" d="M322.79 446.12L397.28 538.11M318.36 449.71L392.85 541.69M313.93 453.3L388.42 545.28M309.5 456.89L383.99 548.87M305.07 460.47L379.56 552.46M300.64 464.06L375.13 556.04M296.21 467.65L370.7 559.63M291.78 471.23L366.27 563.22M287.35 474.82L361.84 566.8M282.92 478.41L357.41 570.39M278.49 482L352.98 573.98M274.06 485.58L348.55 577.57M269.63 489.17L344.12 581.15M265.2 492.76L339.69 584.74M260.77 496.34L335.26 588.33M256.34 499.93L330.83 591.91M251.91 503.52L326.4 595.5M247.48 507.11L321.97 599.09M243.05 510.69L317.54 602.68M238.63 514.28L313.11 606.26M234.2 517.87L308.68 609.85M229.77 521.45L304.25 613.44M225.34 525.04L299.82 617.02" stroke-width="1.35"/>
<path d="M256.5 531.9 C257 535 260 536.2 263.2 536.4 L285 536.4 M370 531.9 C369.4 535 366.4 536.2 363.4 536.4 L342.2 536.4" stroke-width="1"/>
<path d="M265.5 534.1 L279 534.1 M347.5 534.1 L358.8 534.1" stroke-width="0.9"/>
<path d="M377.4 437.7 L248.4 437.7 C246.8 437.9 246.2 438.4 246.6 439 M238.1 459.3 L236 459.4 C235.2 462.6 234.5 467 234.4 472.4 C234.4 484 235.4 496 236.8 507.4 C237.4 514 238 520.6 238.5 527 L244.6 527 C246.6 527.2 247.8 528.2 248.4 530 C249.4 534 250.6 537.4 254.6 538.5 L371.4 538.5"/>
<path d="M377.4 437.7 C379.4 437.9 380.1 438.8 380.1 440.4 L379.8 443.4 L375.2 444.8 M388 459.3 L390.2 459.5 C390.4 461.4 390.6 462.6 390.7 463.6 C391.2 466.8 392.8 468.4 396.4 468.8 L423.8 469.2 M371.4 538.5 C374 537.8 375.2 536 375.8 534 C376.4 531.4 376.8 529.4 378.4 528.5 L382 526.8 L386.5 526.3 C386.8 524.6 387.2 522.8 387.6 521 C388 518.4 388.4 516.6 389.4 515.4 C390 514.4 390.6 513.6 391.4 513.1"/>
<path d="M399.5 469 C399.58 469.83 399.8 472.17 400 474 C400.2 475.83 400.45 478 400.7 480 C400.95 482 401.3 484 401.5 486 C401.7 488 401.88 490 401.9 492 C401.92 494 401.8 496.17 401.6 498 C401.4 499.83 401.03 501.33 400.7 503 C400.37 504.67 400 506.23 399.6 508 C399.2 509.77 398.52 512.67 398.3 513.6"/>
<path clip-path="url(#c24)" d="M172.62 476.6L249.96 405.73M180.39 485.08L257.73 414.21M188.16 493.56L265.5 422.69M195.93 502.04L273.27 431.17M203.7 510.52L281.04 439.65M211.47 519L288.81 448.13M219.24 527.47L296.58 456.6M227.01 535.95L304.35 465.08M234.78 544.43L312.12 473.56M242.55 552.91L319.89 482.04M250.31 561.39L327.66 490.52"/>
<path clip-path="url(#c25)" d="M299.8 478.72L378.95 403.61M307.72 487.06L386.87 411.95M315.63 495.4L394.78 420.29M323.55 503.75L402.7 428.63M331.46 512.09L410.62 436.97M339.38 520.43L418.53 445.32M347.3 528.77L426.45 453.66M355.21 537.11L434.36 462M363.13 545.45L442.28 470.34M371.04 553.8L450.2 478.68M378.96 562.14L458.11 487.03"/>
<line x1="459.4" y1="439.6" x2="969.4" y2="439.6"/>
<line x1="391.4" y1="513.9" x2="969.4" y2="513.9"/>
<path d="M459.4 439.6 L409.8 468.2"/>
<path d="M458.4 440.4 L424.6 469.0"/>
<line x1="376.2" y1="476.8" x2="1099.8" y2="476.8"/>
<path d="M969.4 439.6 L975 444.1 L1050.6 444.1 L1055.3 439.6 L1081.1 439.6"/>
<path d="M969.4 513.9 L975 509.7 L1050.6 509.7 L1055.3 513.9 L1081.1 513.9"/>
<line x1="1081.1" y1="439.6" x2="1081.1" y2="513.9"/>
<path d="M921.6 439.1 C920.33 440.18 915.9 443.28 914 445.6 C912.1 447.92 910.97 450.5 910.2 453 C909.43 455.5 909.37 458 909.4 460.6 C909.43 463.2 909.93 465.93 910.4 468.6 C910.87 471.27 911.5 474.03 912.2 476.6 C912.9 479.17 913.9 481.67 914.6 484 C915.3 486.33 915.93 488.43 916.4 490.6 C916.87 492.77 917.3 494.83 917.4 497 C917.5 499.17 917.33 501.6 917 503.6 C916.67 505.6 916.05 507.38 915.4 509 C914.75 510.62 913.48 512.58 913.1 513.3"/>
<line x1="956.7" y1="455" x2="1081.1" y2="455"/>
<line x1="956.7" y1="498.2" x2="1081.1" y2="498.2"/>
<line x1="956.7" y1="455" x2="956.7" y2="498.2"/>
<path d="M956.7 455 L945 476.8 L956.7 498.2"/>
<line x1="974.5" y1="452" x2="974.5" y2="501.3" stroke-width="1.6"/>
<line x1="974.5" y1="452" x2="1124.4" y2="452"/>
<line x1="974.5" y1="501.3" x2="1124.4" y2="501.3"/>
<line x1="1077.8" y1="455" x2="1077.8" y2="498.2"/>
<path d="M1077.8 455.0 L1081.1 452.0 M1077.8 498.2 L1081.1 501.3" stroke-width="1"/>
<path clip-path="url(#c26)" d="M867.38 475.64L942.44 401.88M875.3 483.7L950.36 409.94M883.22 491.76L958.28 418M891.14 499.82L966.2 426.06M899.06 507.88L974.12 434.12M906.98 515.94L982.04 442.18M914.9 524L989.96 450.24M922.82 532.06L997.88 458.3M930.74 540.12L1005.8 466.36M938.66 548.18L1013.72 474.41M946.58 556.24L1021.64 482.47"/>
<path clip-path="url(#c27)" d="M948.64 445.57L1027.95 367.63M956.56 453.63L1035.87 375.69M964.48 461.69L1043.8 383.75M972.4 469.75L1051.72 391.81M980.32 477.81L1059.64 399.87M988.24 485.87L1067.56 407.93M996.16 493.93L1075.48 415.99M1004.08 501.99L1083.4 424.05M1012 510.05L1091.32 432.11M1019.92 518.11L1099.24 440.17M1027.84 526.17L1107.16 448.23"/>
<path clip-path="url(#c28)" d="M950.43 506.99L1029.85 428.95M958.35 515.05L1037.77 437.01M966.27 523.11L1045.69 445.06M974.19 531.17L1053.61 453.12M982.11 539.23L1061.53 461.18M990.03 547.29L1069.45 469.24M997.95 555.35L1077.37 477.3M1005.87 563.41L1085.29 485.36M1013.79 571.47L1093.21 493.42M1021.71 579.53L1101.13 501.48M1029.63 587.59L1109.05 509.54"/>
<line x1="974.8" y1="509.7" x2="974.8" y2="558.4"/>
<line x1="1081.1" y1="514.2" x2="1081.1" y2="558.4"/>
<line x1="974.8" y1="551.5" x2="1081.1" y2="551.5"/>
<path d="M974.8 551.5 L983.3 550.2 L983.3 552.8 Z" fill="#3a3a3a" stroke="#3a3a3a" stroke-width="0.4"/>
<path d="M1081.1 551.5 L1072.6 552.8 L1072.6 550.2 Z" fill="#3a3a3a" stroke="#3a3a3a" stroke-width="0.4"/>
<text x="1027.6" y="546.4" font-size="18.8" text-anchor="middle" textLength="27.5" lengthAdjust="spacingAndGlyphs"><tspan font-weight="bold">&gt;</tspan>30</text>
<line x1="1117.4" y1="372.8" x2="1117.4" y2="501.3"/>
<path d="M1117.4 452.4 L1118.7 461.4 L1116.1 461.4 Z" fill="#3a3a3a" stroke="#3a3a3a" stroke-width="0.4"/>
<path d="M1117.4 500.9 L1116.1 491.9 L1118.7 491.9 Z" fill="#3a3a3a" stroke="#3a3a3a" stroke-width="0.4"/>
<text x="1112.4" y="407.6" font-size="18.8" text-anchor="middle" textLength="65.5" lengthAdjust="spacingAndGlyphs" transform="rotate(-90 1112.4 407.6)">M14X1.5</text>
<circle cx="313.1" cy="697.8" r="78.2"/>
<circle cx="313.1" cy="697.8" r="65.5"/>
<path d="M290.8 662 L335.4 662 A34.2 34.2 0 0 1 369.6 696.2 L369.6 699.4 A34.2 34.2 0 0 1 335.4 733.6 L290.8 733.6 A34.2 34.2 0 0 1 256.6 699.4 L256.6 696.2 A34.2 34.2 0 0 1 290.8 662 Z"/>
<path d="M300.4 663.8 L325.8 663.8 A29.5 29.5 0 0 1 355.3 693.3 L355.3 702.3 A29.5 29.5 0 0 1 325.8 731.8 L300.4 731.8 A29.5 29.5 0 0 1 270.9 702.3 L270.9 693.3 A29.5 29.5 0 0 1 300.4 663.8 Z"/>
<line x1="224" y1="697.8" x2="400.2" y2="697.8"/>
<line x1="313.1" y1="604" x2="313.1" y2="811.8"/>
<path d="M313.1 697.8 C315.07 697.34 321 695.96 324.94 695.04 C328.89 694.12 332.84 693.21 336.79 692.29 C340.73 691.37 344.68 690.46 348.63 689.54 C352.58 688.63 356.52 687.71 360.47 686.8 C364.42 685.88 368.37 684.97 372.32 684.05 C376.26 683.13 380.21 682.22 384.16 681.3 C388.11 680.38 392.05 679.46 396 678.54 C399.95 677.62 403.9 676.7 407.84 675.78 C411.79 674.85 415.74 673.93 419.69 673 C423.64 672.07 427.58 671.14 431.53 670.21 C435.48 669.27 439.43 668.34 443.37 667.4 C447.32 666.45 451.27 665.5 455.22 664.55 C459.16 663.6 463.11 662.63 467.06 661.67 C471.01 660.71 474.96 659.75 478.9 658.78 C482.85 657.82 486.8 656.86 490.75 655.9 C494.69 654.94 498.64 653.98 502.59 653.04 C506.54 652.09 510.49 651.14 514.43 650.21 C518.38 649.28 522.33 648.35 526.28 647.44 C530.22 646.52 534.17 645.62 538.12 644.72 C542.07 643.82 546.01 642.93 549.96 642.04 C553.91 641.15 557.86 640.26 561.81 639.38 C565.75 638.49 569.7 637.6 573.65 636.71 C577.6 635.82 581.54 634.93 585.49 634.03 C589.44 633.13 593.39 632.24 597.33 631.32 C601.28 630.39 605.23 629.45 609.18 628.49 C613.13 627.52 617.07 626.49 621.02 625.54 C624.97 624.58 628.92 623.61 632.86 622.74 C636.81 621.87 640.76 621.11 644.71 620.31 C648.65 619.51 652.6 618.68 656.55 617.94 C660.5 617.2 664.45 616.44 668.39 615.88 C672.34 615.32 676.29 614.92 680.24 614.58 C684.18 614.24 688.13 614.05 692.08 613.84 C696.03 613.62 699.97 613.42 703.92 613.29 C707.87 613.17 711.82 613.05 715.77 613.1 C719.71 613.15 723.66 613.32 727.61 613.6 C731.56 613.87 735.5 614.31 739.45 614.77 C743.4 615.23 747.35 615.79 751.29 616.35 C755.24 616.9 759.19 617.4 763.14 618.08 C767.09 618.77 771.03 619.55 774.98 620.46 C778.93 621.37 782.88 622.43 786.82 623.53 C790.77 624.64 794.72 625.78 798.67 627.08 C802.61 628.39 806.56 629.77 810.51 631.37 C814.46 632.96 818.41 634.84 822.35 636.65 C826.3 638.46 830.25 640.42 834.2 642.25 C838.14 644.07 842.09 645.81 846.04 647.59 C849.99 649.37 853.94 651.13 857.88 652.92 C861.83 654.71 865.78 656.51 869.73 658.33 C873.67 660.15 877.62 661.96 881.57 663.84 C885.52 665.72 889.46 667.71 893.41 669.63 C897.36 671.55 901.31 673.55 905.26 675.36 C909.2 677.17 913.15 678.86 917.1 680.49 C921.05 682.13 924.99 683.62 928.94 685.19 C932.89 686.75 936.84 688.45 940.78 689.9 C944.73 691.34 948.68 692.72 952.63 693.84 C956.58 694.96 960.52 695.96 964.47 696.62 C968.42 697.29 972.37 697.62 976.31 697.83 C980.26 698.05 984.21 697.89 988.16 697.9 C992.1 697.91 981.31 697.9 1000 697.9 C1018.69 697.9 1083.58 697.9 1100.3 697.9"/>
<path d="M352.5 630 C353.75 630.43 357.5 631.87 360 632.6 C362.5 633.33 364.83 633.83 367.5 634.4 C370.17 634.97 372.88 635.55 376 636 C379.12 636.45 383.08 636.87 386.25 637.1 C389.42 637.33 391.88 637.4 395 637.4 C398.12 637.4 401.25 637.5 405 637.1 C408.75 636.7 413.33 635.8 417.5 635 C421.67 634.2 426.25 633.13 430 632.3 C433.75 631.47 436.35 630.87 440 630 C443.65 629.13 447.94 628.07 451.91 627.11 C455.89 626.14 459.86 625.19 463.83 624.23 C467.8 623.27 471.77 622.31 475.74 621.35 C479.72 620.4 483.69 619.44 487.66 618.48 C491.63 617.53 495.6 616.58 499.57 615.63 C503.55 614.68 507.52 613.74 511.49 612.8 C515.46 611.86 519.43 610.93 523.4 610.01 C527.38 609.08 531.35 608.16 535.32 607.25 C539.29 606.34 543.26 605.43 547.23 604.53 C551.21 603.62 555.18 602.72 559.15 601.82 C563.12 600.92 567.09 600.03 571.06 599.12 C575.04 598.22 579.01 597.32 582.98 596.41 C586.95 595.51 590.92 594.61 594.89 593.68 C598.87 592.76 602.84 591.83 606.81 590.87 C610.78 589.9 614.75 588.86 618.72 587.89 C622.7 586.92 626.67 585.92 630.64 585.04 C634.61 584.16 638.58 583.4 642.55 582.62 C646.52 581.83 650.5 581.06 654.47 580.34 C658.44 579.63 662.41 578.88 666.38 578.33 C670.35 577.77 674.33 577.34 678.3 577.01 C682.27 576.68 686.24 576.55 690.21 576.36 C694.18 576.17 698.16 575.99 702.13 575.87 C706.1 575.74 710.07 575.62 714.04 575.61 C718.01 575.61 721.99 575.64 725.96 575.86 C729.93 576.07 733.9 576.48 737.87 576.91 C741.84 577.34 745.82 577.91 749.79 578.45 C753.76 578.99 757.73 579.51 761.7 580.14 C765.67 580.78 769.65 581.45 773.62 582.25 C777.59 583.05 781.56 583.97 785.53 584.94 C789.5 585.9 793.48 586.92 797.45 588.04 C801.42 589.17 805.39 590.33 809.36 591.67 C813.33 593.01 817.3 594.54 821.28 596.09 C825.25 597.63 829.22 599.3 833.19 600.94 C837.16 602.57 841.13 604.19 845.11 605.89 C849.08 607.6 853.05 609.38 857.02 611.18 C860.99 612.98 864.96 614.86 868.94 616.71 C872.91 618.56 876.88 620.42 880.85 622.3 C884.82 624.17 888.79 626.07 892.77 627.97 C896.74 629.88 900.71 631.82 904.68 633.72 C908.65 635.61 912.62 637.48 916.6 639.35 C920.57 641.21 924.54 643 928.51 644.9 C932.48 646.81 936.45 648.95 940.43 650.77 C944.4 652.59 948.37 654.45 952.34 655.83 C956.31 657.22 960.28 658.3 964.26 659.08 C968.23 659.85 972.2 660.23 976.17 660.49 C980.14 660.74 984.11 660.58 988.09 660.6 C992.06 660.62 984.41 660.6 1000 660.6 C1015.59 660.6 1068 660.6 1081.6 660.6"/>
<path d="M377.8 741.2 C378.77 739.93 381.57 735.93 383.6 733.6 C385.63 731.27 387.6 729.13 390 727.2 C392.4 725.27 395.33 723.53 398 722 C400.67 720.47 403.17 719.27 406 718 C408.83 716.73 411.62 715.73 415 714.4 C418.38 713.07 422.38 711.28 426.25 710 C430.12 708.72 434.22 707.77 438.2 706.72 C442.19 705.67 446.17 704.68 450.16 703.7 C454.14 702.71 458.12 701.76 462.11 700.81 C466.09 699.87 470.08 698.94 474.06 698.02 C478.05 697.1 482.03 696.2 486.02 695.29 C490 694.38 493.98 693.48 497.97 692.58 C501.95 691.67 505.94 690.76 509.92 689.84 C513.91 688.92 517.89 687.99 521.88 687.06 C525.86 686.12 529.84 685.18 533.83 684.24 C537.81 683.29 541.8 682.35 545.78 681.4 C549.77 680.46 553.75 679.51 557.73 678.56 C561.72 677.62 565.7 676.67 569.69 675.73 C573.67 674.78 577.66 673.84 581.64 672.9 C585.62 671.96 589.61 671.03 593.59 670.09 C597.58 669.16 601.56 668.24 605.55 667.3 C609.53 666.36 613.52 665.39 617.5 664.45 C621.48 663.52 625.47 662.57 629.45 661.68 C633.44 660.79 637.42 659.96 641.41 659.11 C645.39 658.26 649.38 657.39 653.36 656.56 C657.34 655.74 661.33 654.87 665.31 654.16 C669.3 653.45 673.28 652.82 677.27 652.31 C681.25 651.79 685.23 651.43 689.22 651.06 C693.2 650.68 697.19 650.28 701.17 650.07 C705.16 649.85 709.14 649.71 713.12 649.77 C717.11 649.82 721.09 650.07 725.08 650.41 C729.06 650.74 733.05 651.25 737.03 651.78 C741.02 652.32 745 652.98 748.98 653.63 C752.97 654.27 756.95 654.86 760.94 655.66 C764.92 656.46 768.91 657.35 772.89 658.42 C776.88 659.5 780.86 660.8 784.84 662.12 C788.83 663.44 792.81 664.85 796.8 666.34 C800.78 667.82 804.77 669.31 808.75 671.02 C812.73 672.73 816.72 674.69 820.7 676.61 C824.69 678.52 828.67 680.58 832.66 682.5 C836.64 684.42 840.62 686.27 844.61 688.12 C848.59 689.97 852.58 691.76 856.56 693.59 C860.55 695.41 864.53 697.23 868.52 699.07 C872.5 700.9 876.48 702.72 880.47 704.62 C884.45 706.52 888.44 708.55 892.42 710.49 C896.41 712.43 900.39 714.47 904.38 716.28 C908.36 718.08 912.34 719.75 916.33 721.32 C920.31 722.89 924.3 724.33 928.28 725.69 C932.27 727.04 936.25 728.35 940.23 729.45 C944.22 730.56 948.2 731.57 952.19 732.32 C956.17 733.07 960.16 733.54 964.14 733.94 C968.12 734.34 972.11 734.57 976.09 734.72 C980.08 734.86 984.06 734.79 988.05 734.8 C992.03 734.81 984.41 734.8 1000 734.8 C1015.59 734.8 1068 734.8 1081.6 734.8"/>
<path d="M407.5 637.1 C410.21 638 417.92 640.14 423.75 642.5 C429.58 644.86 437.29 648.54 442.5 651.25 C447.71 653.96 452.08 656.46 455 658.75 C457.92 661.04 459.58 662.29 460 665 C460.42 667.71 459.38 671.25 457.5 675 C455.62 678.75 452.29 683.12 448.75 687.5 C445.21 691.88 440 697.5 436.25 701.25 C432.5 705 427.92 708.54 426.25 710"/>
<line x1="407.5" y1="643.75" x2="421.9" y2="705"/>
<line x1="1081.3" y1="660.6" x2="1081.3" y2="811.9"/>
<path d="M974.75 680.4 L1051.0 680.4 L1051.0 715.6 L974.75 715.6 Z"/>
<line x1="974.75" y1="680.4" x2="1051" y2="715.6"/>
<line x1="974.75" y1="715.6" x2="1051" y2="680.4"/>
<path d="M974.75 680.4 C968.95 689.4 968.95 706.6 974.75 715.6"/>
<path d="M1051.0 680.4 C1056.8 689.4 1056.8 706.6 1051.0 715.6"/>
<line x1="313.1" y1="804.3" x2="1081.6" y2="804.3"/>
<path d="M313.1 804.3 L322.1 803 L322.1 805.6 Z" fill="#3a3a3a" stroke="#3a3a3a" stroke-width="0.4"/>
<path d="M1081.6 804.3 L1072.6 805.6 L1072.6 803 Z" fill="#3a3a3a" stroke="#3a3a3a" stroke-width="0.4"/>
<text x="696.6" y="800.6" font-size="18.8" text-anchor="middle" textLength="27" lengthAdjust="spacingAndGlyphs">217</text>
<line x1="688.5" y1="290.7" x2="718" y2="290.7"/>
<line x1="709.1" y1="270.2" x2="709.1" y2="311"/>
<path d="M718.6 285.2 L801.8 285.2 L801.8 290.3 L811.8 290.3 L811.8 295.6 L718.6 295.6 C716.4 295.8 715.2 297.2 714 298.4 A9.3 9.3 0 1 1 714 283 C715.2 284 716.4 285 718.6 285.2 Z"/>
<line x1="714" y1="290.3" x2="801.8" y2="290.3"/>
<ellipse cx="709.1" cy="290.7" rx="2.6" ry="2.1" fill="#666"/>
<line x1="959.3" y1="228.9" x2="959.3" y2="307.2"/>
<path d="M938.3 298.5 L919 298.5 C915.2 298.3 912.8 296.4 912.8 293.4 C912.8 290.4 915.6 288.4 919.6 287.6 L924.5 286.9 L924.5 250.2 C924.5 246.6 926.4 244.8 930 244.7 L952.4 244.7 L952.4 262.2 L966 262.2 L966 244.7 L989.4 244.7 C993 244.8 995 246.6 995 250.2 L995 285.6 L999.2 286.6 C1003.4 287.8 1005.8 290.2 1005.8 293.4 C1005.8 296.4 1003.6 298.3 999.8 298.5 L938.3 298.5"/>
<line x1="939.4" y1="244.7" x2="939.4" y2="298.5" stroke-width="2.2"/>
<path clip-path="url(#c29)" d="M878.46 276.16L918.64 224.73M879.96 277.33L920.14 225.9M881.45 278.5L921.64 227.07M882.95 279.67L923.13 228.24M884.45 280.84L924.63 229.41M885.94 282.01L926.13 230.58M887.44 283.18L927.63 231.75M888.94 284.35L929.12 232.92M890.44 285.52L930.62 234.09M891.93 286.69L932.12 235.26M893.43 287.86L933.61 236.43M894.93 289.03L935.11 237.6M896.42 290.2L936.61 238.76M897.92 291.37L938.11 239.93M899.42 292.54L939.6 241.1M900.92 293.71L941.1 242.27M902.41 294.88L942.6 243.44M903.91 296.05L944.09 244.61M905.41 297.22L945.59 245.78M906.91 298.39L947.09 246.95M908.4 299.56L948.59 248.12M909.9 300.73L950.08 249.29M911.4 301.9L951.58 250.46M912.89 303.07L953.08 251.63M914.39 304.24L954.58 252.8M915.89 305.4L956.07 253.97M917.39 306.57L957.57 255.14M918.88 307.74L959.07 256.31M920.38 308.91L960.56 257.48M921.88 310.08L962.06 258.65M923.37 311.25L963.56 259.82M924.87 312.42L965.06 260.99M926.37 313.59L966.55 262.16M927.87 314.76L968.05 263.33M929.36 315.93L969.55 264.5M930.86 317.1L971.04 265.67M932.36 318.27L972.54 266.84" stroke-width="1.15"/>
<line x1="940.4" y1="247.3" x2="952.4" y2="247.3"/>
<line x1="940.4" y1="294.6" x2="959.3" y2="294.6"/>
<line x1="940.4" y1="296.6" x2="959.3" y2="296.6" stroke-width="0.9"/>
<path d="M967.4 245.4 L976.8 248.9 L981.2 246.0 M976.8 248.9 L976.8 285.8"/>
<path d="M982 246.4 L982 259.6 C982 261.4 983 262.2 984.6 262.2 L986.8 262.2 C988.4 262.2 989.3 261.4 989.3 259.6 L989.3 246.0"/>
<path d="M959.3 286.2 C964 284.6 971 284.8 976.8 287.6 C982 284.8 989 284.6 995 285.8"/>
<path d="M972.4 286.2 L976.8 290.2 L981.4 286.2" stroke-width="1"/>
<line x1="959.3" y1="291.2" x2="995.4" y2="291.2"/>
<line x1="940.4" y1="296" x2="1002.8" y2="296" stroke-width="0.9"/>
<line x1="938.3" y1="298.5" x2="938.3" y2="338.5"/>
<line x1="938.3" y1="331.2" x2="1017.2" y2="331.2"/>
<path d="M938.5 331.2 L947 329.9 L947 332.5 Z" fill="#3a3a3a" stroke="#3a3a3a" stroke-width="0.4"/>
<text x="941.4" y="326.8" font-size="18.8" textLength="70.2" lengthAdjust="spacingAndGlyphs">M12x1.25</text>
</g>
</svg>
</body>
</html>
